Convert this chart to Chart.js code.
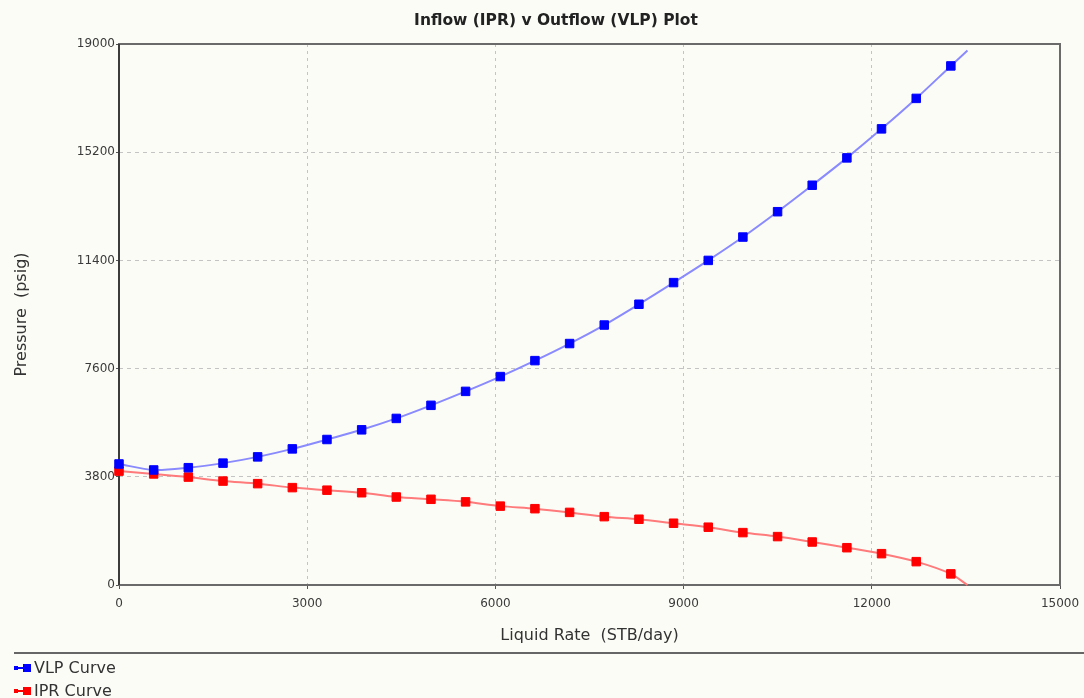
<!DOCTYPE html>
<html>
<head>
<meta charset="utf-8">
<script src="https://cdn.jsdelivr.net/npm/chart.js@4"></script>
<style>
  html, body { margin: 0; padding: 0; background: #fcfcf7; }
  canvas { display: block; }
</style>
</head>
<body>
<canvas id="iprVlpChart" width="1084" height="698"></canvas>
<script>
// Liquid rates (STB/day); the last one is only the curve end, no marker
const rates = [0, 553, 1105, 1658, 2210, 2763, 3315, 3868, 4420, 4973, 5525, 6078, 6630,
    7183, 7735, 8288, 8840, 9393, 9945, 10498, 11050, 11603, 12155, 12708, 13260, 13525];

// Pressures (psig)
const vlpPressure = [4250, 4040, 4120, 4280, 4500, 4780, 5110, 5450, 5850, 6310, 6800, 7320, 7880,
    8480, 9130, 9860, 10620, 11400, 12220, 13110, 14040, 15000, 16020, 17090, 18230, 18770];
const iprPressure = [4000, 3900, 3790, 3650, 3560, 3420, 3330, 3240, 3090, 3010, 2920, 2770, 2680,
    2550, 2400, 2310, 2170, 2030, 1840, 1700, 1510, 1310, 1100, 820, 390, 0];

const xTicks = [0, 3000, 6000, 9000, 12000, 15000];
const yTicks = [0, 3800, 7600, 11400, 15200, 19000];

const seriesNames = ['VLP Curve', 'IPR Curve'];
const markerColors = ['#0000ff', '#ff0000'];
const lineColors = ['#8a8aff', '#ff7a7a'];

function toPoints(ys) {
    return rates.map((r, i) => ({ x: r, y: ys[i] }));
}

const lastIndex = rates.length - 1;

function makeDataset(i, ys) {
    return {
        label: seriesNames[i],
        data: toPoints(ys),
        borderColor: lineColors[i],
        borderWidth: 2,
        backgroundColor: markerColors[i],
        pointStyle: 'rect',
        pointRadius: ctx => ctx.dataIndex === lastIndex ? 0 : 6,
        pointBorderWidth: 1,
        pointBorderColor: markerColors[i],
        pointBackgroundColor: markerColors[i],
        tension: 0.3,
        clip: false
    };
}

// Background, frame, title and the legend below the rule
const decorations = {
    id: 'decorations',
    beforeDraw(chart) {
        const c = chart.ctx;
        c.save();
        c.fillStyle = '#fcfcf7';
        c.fillRect(0, 0, chart.width, chart.height);
        c.restore();
    },
    beforeDatasetsDraw(chart) {
        const c = chart.ctx;
        const a = chart.chartArea;
        c.save();
        c.strokeStyle = '#6a6a6a';
        c.lineWidth = 2;
        c.strokeRect(a.left, a.top, a.right - a.left, a.bottom - a.top);
        c.strokeStyle = '#3c3c3c';
        c.beginPath();
        c.moveTo(a.left, a.top);
        c.lineTo(a.left, a.bottom);
        c.stroke();
        c.restore();
    },
    afterDraw(chart) {
        const c = chart.ctx;
        c.save();
        // title
        c.fillStyle = '#222';
        c.font = 'bold 15.5px "DejaVu Sans"';
        c.textAlign = 'center';
        c.textBaseline = 'middle';
        c.fillText('Inflow (IPR) v Outflow (VLP) Plot', 556, 21);

        // legend rule
        c.strokeStyle = '#666';
        c.lineWidth = 2;
        c.beginPath();
        c.moveTo(14, 653);
        c.lineTo(chart.width, 653);
        c.stroke();

        // legend entries
        c.font = '16px "DejaVu Sans"';
        c.textAlign = 'left';
        chart.data.datasets.forEach((ds, i) => {
            const y = 668 + i * 23;
            c.strokeStyle = markerColors[i];
            c.lineWidth = 2;
            c.beginPath();
            c.moveTo(14, y);
            c.lineTo(31, y);
            c.stroke();
            c.fillStyle = markerColors[i];
            c.fillRect(14, y - 2, 4, 4);
            c.fillRect(23, y - 4, 8, 8);
            c.fillStyle = '#333';
            c.fillText(ds.label, 34, y + 1);
        });
        c.restore();
    }
};

const gridColor = ctx => (ctx.tick && (ctx.index === 0 || ctx.index === ctx.scale.ticks.length - 1))
    ? 'rgba(0,0,0,0)' : '#c4c4c4';

const plainNumber = v => String(v);

const ctx = document.getElementById('iprVlpChart').getContext('2d');

const myChart = new Chart(ctx, {
    type: 'line',
    data: {
        datasets: [makeDataset(0, vlpPressure), makeDataset(1, iprPressure)]
    },
    plugins: [decorations],
    options: {
        responsive: false,
        animation: false,
        layout: { padding: { left: 0, right: 24, top: 44, bottom: 53 } },
        plugins: {
            legend: { display: false },
            title: { display: false },
            tooltip: { enabled: false }
        },
        scales: {
            x: {
                type: 'linear',
                min: 0,
                max: 15000,
                afterBuildTicks: scale => { scale.ticks = xTicks.map(v => ({ value: v })); },
                afterFit: scale => {
                    scale.height = 60;
                    scale.paddingLeft = 0;
                    scale.paddingRight = 0;
                },
                ticks: {
                    color: '#3a3a3a',
                    font: { family: 'DejaVu Sans', size: 12 },
                    padding: 8,
                    maxRotation: 0,
                    callback: plainNumber
                },
                grid: {
                    color: gridColor,
                    lineWidth: 1,
                    tickLength: 4,
                    tickColor: '#555'
                },
                border: { display: false, dash: [3, 4] },
                title: {
                    display: true,
                    text: 'Liquid Rate  (STB/day)',
                    color: '#333',
                    font: { family: 'DejaVu Sans', size: 16 },
                    padding: { top: 0, bottom: 0 }
                }
            },
            y: {
                type: 'linear',
                min: 0,
                max: 19000,
                afterBuildTicks: scale => { scale.ticks = yTicks.map(v => ({ value: v })); },
                afterFit: scale => {
                    scale.width = 119;
                    scale.paddingTop = 0;
                    scale.paddingBottom = 0;
                },
                ticks: {
                    color: '#3a3a3a',
                    font: { family: 'DejaVu Sans', size: 12 },
                    padding: 1,
                    callback: plainNumber
                },
                grid: {
                    color: gridColor,
                    lineWidth: 1,
                    tickLength: 3,
                    tickColor: '#555'
                },
                border: { display: false, dash: [4, 4] },
                title: {
                    display: true,
                    text: 'Pressure  (psig)',
                    color: '#333',
                    font: { family: 'DejaVu Sans', size: 16 },
                    padding: { top: 12, bottom: 0 }
                }
            }
        }
    }
});
</script>
</body>
</html>
